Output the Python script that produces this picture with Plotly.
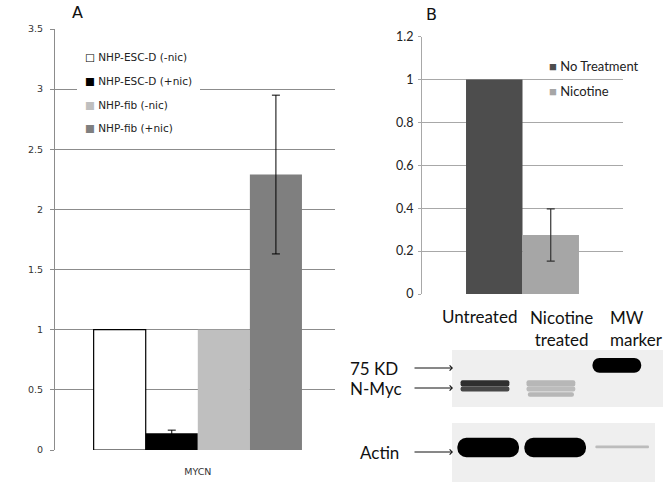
import plotly.graph_objects as go

# ---- data ----
# panel A: MYCN expression
a_category = ["MYCN"]
a_series = ["NHP-ESC-D (-nic)", "NHP-ESC-D (+nic)", "NHP-fib (-nic)", "NHP-fib (+nic)"]
a_values = [1.0, 0.14, 1.0, 2.29]
a_errors = [0.0, 0.025, 0.0, 0.66]
a_ticks = [0, 0.5, 1, 1.5, 2, 2.5, 3, 3.5]

# panel B: N-Myc quantification
b_series = ["No Treatment", "Nicotine"]
b_values = [1.0, 0.275]
b_errors = [0.0, 0.122]
b_ticks = [0, 0.2, 0.4, 0.6, 0.8, 1.0, 1.2]
b_ticktext = ["0", "0.2", "0.4", "0.6", "0.8", "1", "1.2"]

# western blot lanes and band intensities (0 = none, 1 = saturated)
blot_lanes = ["Untreated", "Nicotine treated", "MW marker"]
blot_lane_labels = ["Untreated", "Nicotine<br>treated", "MW<br>marker"]
band_75kd = [0.0, 0.0, 1.0]
band_nmyc_upper = [0.8, 0.22, 0.0]
band_nmyc_lower = [0.7, 0.2, 0.0]
band_nmyc_faint = [0.0, 0.22, 0.0]
band_actin = [1.0, 1.0, 0.0]
band_actin_trace = [0.0, 0.0, 0.2]

# ---- style ----
a_colors = ["white", "black", "#bfbfbf", "#7f7f7f"]
b_colors = ["#4d4d4d", "#a6a6a6"]
W, H = 672, 504


def px_x(p):
    return p / W


def px_y(p):
    return 1 - p / H


def band_color(v):
    if v <= 0:
        return "rgba(0,0,0,0)"
    g = int(round(235 * (1 - v)))
    return f"rgb({g},{g},{g})"


fig = go.Figure()

# panel A bars
a_bw = 0.186
for i, name in enumerate(a_series):
    fig.add_trace(go.Bar(
        x=a_category, y=[a_values[i]], name=name,
        width=a_bw, offset=-a_bw * len(a_series) / 2 + i * a_bw,
        marker=dict(color=a_colors[i],
                    line=dict(color="black", width=1.2 if i == 0 else 0)),
        error_y=dict(type="data", array=[a_errors[i]], visible=a_errors[i] > 0,
                     color="black", thickness=1, width=4),
        xaxis="x", yaxis="y", showlegend=False,
    ))

# panel B bars
b_bw = 0.281
for i, name in enumerate(b_series):
    fig.add_trace(go.Bar(
        x=["N-Myc"], y=[b_values[i]], name=name,
        width=b_bw, offset=-b_bw * len(b_series) / 2 + i * b_bw,
        marker=dict(color=b_colors[i], line=dict(width=0)),
        error_y=dict(type="data", array=[b_errors[i]], visible=b_errors[i] > 0,
                     color="#333", thickness=1.2, width=4),
        xaxis="x2", yaxis="y2", showlegend=False,
    ))

# blot bands: (intensities, base, thickness, width, corner radius, axes)
bands = [
    (band_75kd, 6.0, 2.6, 0.74, 7, "x3", "y3"),
    (band_nmyc_upper, 3.6, 1.1, 0.74, 2, "x3", "y3"),
    (band_nmyc_lower, 2.7, 0.9, 0.74, 2, "x3", "y3"),
    (band_nmyc_faint, 1.8, 0.8, 0.7, 2, "x3", "y3"),
    (band_actin, 4.2, 3.3, 0.92, 9, "x4", "y4"),
    (band_actin_trace, 5.7, 0.5, 0.8, 1, "x4", "y4"),
]
for vals, base, thick, width, cr, xa, ya in bands:
    fig.add_trace(go.Bar(
        x=blot_lanes, y=[thick] * len(blot_lanes), base=base, width=width,
        marker=dict(color=[band_color(v) for v in vals],
                    line=dict(width=0), cornerradius=cr),
        xaxis=xa, yaxis=ya, showlegend=False, hoverinfo="skip",
    ))

fig.update_layout(
    width=W, height=H,
    margin=dict(l=0, r=0, t=0, b=0, pad=0, autoexpand=False),
    paper_bgcolor="white", plot_bgcolor="white",
    barmode="overlay", showlegend=False,
    font=dict(family="DejaVu Sans", color="#333"),
    xaxis=dict(domain=[px_x(55), px_x(335)], range=[-0.51, 0.49],
               showgrid=False, showline=False,
               ticks="", tickfont=dict(size=9.5), ticklabelstandoff=14,
               fixedrange=True, automargin=False),
    yaxis=dict(domain=[px_y(450), px_y(29)], range=[0, 3.5], tickvals=a_ticks,
               showgrid=True, gridcolor="#8c8c8c", gridwidth=1,
               showline=True, linecolor="#8c8c8c", ticks="outside",
               ticklen=4, tickcolor="#8c8c8c", tickfont=dict(size=9.5),
               ticklabelstandoff=5, zeroline=False, anchor="x", automargin=False),
    xaxis2=dict(domain=[px_x(422), px_x(623)], showgrid=False,
                showticklabels=False, ticks="", anchor="y2", automargin=False),
    yaxis2=dict(domain=[px_y(294), px_y(36.7)], range=[0, 1.2], tickvals=b_ticks,
                ticktext=b_ticktext, showgrid=True, gridcolor="#a8a8a8",
                showline=True, linecolor="#a8a8a8", ticks="outside", ticklen=3,
                tickcolor="#a8a8a8", zeroline=False, anchor="x2", automargin=False,
                ticklabelstandoff=2,
                tickfont=dict(family="Lato", size=12.5, color="#222")),
    xaxis3=dict(domain=[px_x(452), px_x(663)], range=[-0.5, 2.7],
                showticklabels=False, showgrid=False, ticks="", anchor="y3",
                automargin=False),
    yaxis3=dict(domain=[px_y(407), px_y(350)], range=[0, 10], visible=False,
                anchor="x3", automargin=False),
    xaxis4=dict(domain=[px_x(452), px_x(655)], range=[-0.54, 2.49],
                showticklabels=False, showgrid=False, ticks="", anchor="y4",
                automargin=False),
    yaxis4=dict(domain=[px_y(482), px_y(423)], range=[0, 10], visible=False,
                anchor="x4", automargin=False),
)

# blot backgrounds
for xa, ya in [("x3", "y3"), ("x4", "y4")]:
    fig.add_shape(type="rect", xref=f"{xa} domain", yref=f"{ya} domain",
                  x0=0, x1=1, y0=0, y1=1, fillcolor="#efefef",
                  line=dict(width=0), layer="below")


def label(text, x, y, size, family="DejaVu Sans", color="#111",
          xanchor="center", align="center"):
    fig.add_annotation(text=text, x=px_x(x), y=px_y(y), xref="paper", yref="paper",
                       xanchor=xanchor, yanchor="middle", align=align,
                       showarrow=False,
                       font=dict(family=family, size=size, color=color))


# legend A: white box hiding the gridline, small square keys
fig.add_shape(type="rect", xref="paper", yref="paper",
              x0=px_x(77), x1=px_x(200), y0=px_y(140), y1=px_y(42),
              fillcolor="white", line=dict(width=0), layer="above")
for i, name in enumerate(a_series):
    key = "□" if a_colors[i] == "white" else "■"
    key_color = "black" if a_colors[i] == "white" else a_colors[i]
    label(f'<span style="color:{key_color}">{key}</span> {name}',
          83, 57 + i * 23.8, 10.5, color="#222", xanchor="left")

# legend B
for i, name in enumerate(b_series):
    label(f'<span style="color:{b_colors[i]}">■</span> {name}',
          547, 66 + i * 25, 13, family="Lato", color="#222", xanchor="left")

# panel letters
label("A", 77, 12, 16)
label("B", 431, 14, 16)

# lane labels above the blot
lane_font = "Lato"
label(blot_lane_labels[0], 479, 316, 17, family=lane_font)
label(blot_lane_labels[1], 561, 328, 17, family=lane_font)
label(blot_lane_labels[2], 636, 328, 17, family=lane_font, align="left")

# blot row labels with arrows
for text, ly, lx in [("75 KD", 368, 374), ("N-Myc", 388, 376), ("Actin", 452, 379)]:
    label(text, lx, ly, 17, family=lane_font)
    fig.add_annotation(text="", x=px_x(453), y=px_y(ly), xref="paper",
                       yref="paper", showarrow=True, ax=-40, ay=0,
                       arrowhead=4, arrowsize=1, arrowwidth=1, arrowcolor="#111")

# drop the default page margin so the figure fills the window
fig.write_html("out.html", config={"displayModeBar": False},
               post_script="document.body.style.margin='0';")
